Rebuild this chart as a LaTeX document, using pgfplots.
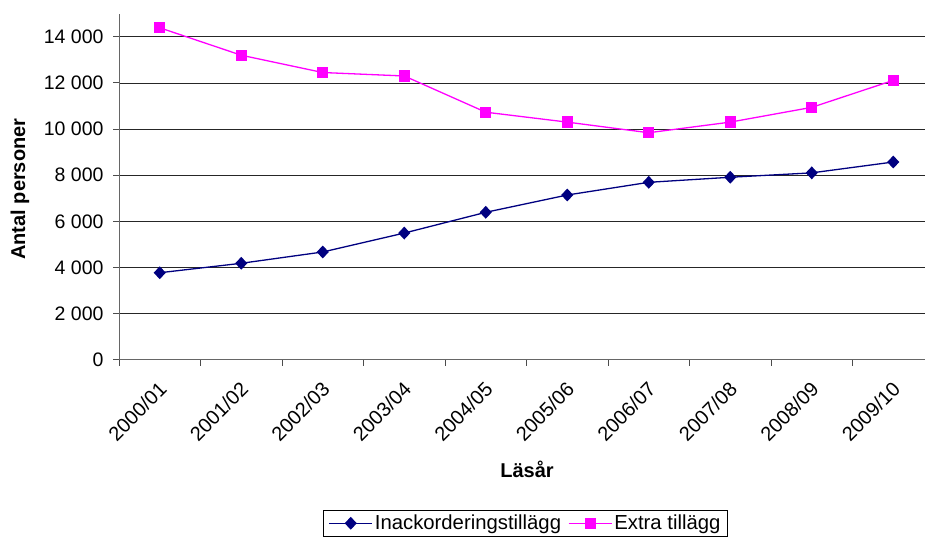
\documentclass[border=0pt]{standalone}
\usepackage{fontspec}
\setmainfont{Liberation Sans}
\usepackage{pgfplots}
\pgfplotsset{compat=1.18}
\definecolor{navyb}{RGB}{0,0,128}
\definecolor{mag}{RGB}{255,0,255}
\begin{document}
\begin{tikzpicture}
\useasboundingbox (0pt,0pt) rectangle (925pt,542pt);
\begin{axis}[
  at={(119pt,182.3pt)}, anchor=south west,
  width=815pt, height=346pt, scale only axis,
  xmin=0, xmax=10, ymin=0, ymax=15000,
  axis x line*=bottom, axis y line*=left,
  axis line style={draw=black!60, line width=0.9pt},
  xtick={0.5,1.5,...,9.5},
  xticklabels={2000/01,2001/02,2002/03,2003/04,2004/05,2005/06,2006/07,2007/08,2008/09,2009/10},
  x tick label style={rotate=45, anchor=north east, font=\fontsize{20}{22}\selectfont, inner sep=1pt, yshift=-8pt, xshift=-11pt},
  major x tick style={draw=none},
  minor xtick={0,1,...,10},
  minor x tick style={draw=black!70, line width=0.9pt},
  minor tick length=6pt,
  ytick={0,2000,...,14000},
  scaled y ticks=false,
  y tick label style={font=\fontsize{19.5}{21}\selectfont, xshift=-6pt},
  major y tick style={draw=black!70, line width=0.9pt},
  major tick length=6pt,
  tick align=outside,
  /pgf/number format/assume math mode=true,
  /pgf/number format/1000 sep={\ },
  ymajorgrids, grid style={draw=black!85, line width=0.8pt},
  xlabel={\bfseries Läsår},
  xlabel style={font=\fontsize{20}{22}\selectfont, at={(axis description cs:0.5006,-0.316)}, anchor=center},
  ylabel={\bfseries Antal personer},
  ylabel style={font=\fontsize{20}{22}\selectfont, at={(axis description cs:-0.1215,0.493)}, anchor=center},
  legend columns=2,
  legend style={at={(axis description cs:0.4988,-0.434)}, anchor=north, draw=black, line width=0.6pt,
    font=\fontsize{20.3}{22}\selectfont, inner ysep=3pt, inner xsep=5pt,
    /tikz/every even column/.append style={column sep=5pt}},
  legend image code/.code={\draw[mark repeat=2,mark phase=2] plot coordinates {(0pt,0pt) (21.5pt,0pt) (43pt,0pt)};},
  clip=false,
]
\addplot[navyb, line width=1.3pt, mark=diamond*, mark size=5.5pt, mark options={fill=navyb, draw=navyb, xscale=1.25}]
  coordinates {(0.5,3770) (1.5,4180) (2.5,4670) (3.5,5490) (4.5,6390) (5.5,7140) (6.5,7690) (7.5,7910) (8.5,8100) (9.5,8570)};
\addlegendentry{Inackorderingstillägg}
\addplot[mag, line width=1.3pt, mark=square*, mark size=5pt, mark options={fill=mag, draw=mag}]
  coordinates {(0.5,14390) (1.5,13200) (2.5,12450) (3.5,12300) (4.5,10730) (5.5,10300) (6.5,9840) (7.5,10300) (8.5,10940) (9.5,12110)};
\addlegendentry{Extra tillägg}
\end{axis}
\end{tikzpicture}
\end{document}
